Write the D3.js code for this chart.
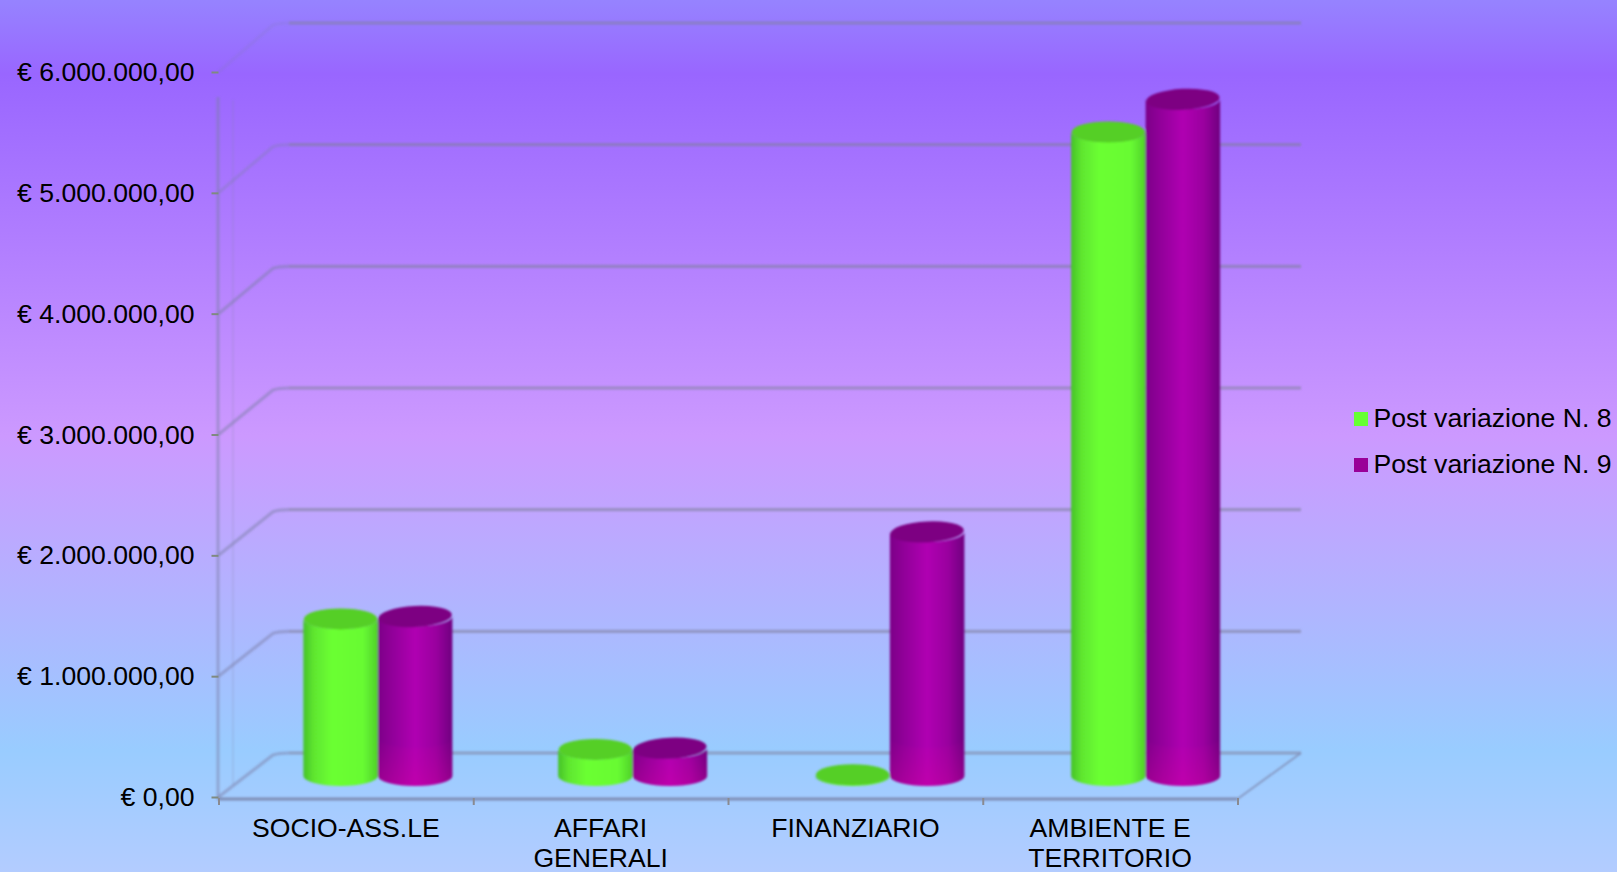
<!DOCTYPE html>
<html><head><meta charset="utf-8">
<script src="https://cdn.jsdelivr.net/npm/d3@7/dist/d3.min.js"></script>
<style>html,body{margin:0;padding:0;overflow:hidden;background:#b0ccff}svg{display:block}text{font-family:"Liberation Sans",Arial,sans-serif;fill:#000}</style>
</head><body><svg id="c" width="1617" height="872"></svg>
<script>
const categories = ["SOCIO-ASS.LE", "AFFARI GENERALI", "FINANZIARIO", "AMBIENTE E TERRITORIO"];
const categoryLines = [["SOCIO-ASS.LE"], ["AFFARI", "GENERALI"], ["FINANZIARIO"], ["AMBIENTE E", "TERRITORIO"]];
const seriesNames = ["Post variazione N. 8", "Post variazione N. 9"];
const series8 = [1300000, 220000, 10000, 5330000];
const series9 = [1320000, 230000, 2020000, 5600000];
const yTicks = [0, 1000000, 2000000, 3000000, 4000000, 5000000, 6000000];

const W = 1617, H = 872, FS = 26.6;
const svg = d3.select("#c");
const defs = svg.append("defs");

// page background
const bg = defs.append("linearGradient").attr("id", "bg").attr("x1", 0).attr("x2", 0).attr("y1", 0).attr("y2", 1);
[[0, "#9683ff"], [.085, "#9966ff"], [.5, "#cc99ff"], [.86, "#99ccff"], [1, "#b3ccff"]]
  .forEach(([o, c]) => bg.append("stop").attr("offset", o).attr("stop-color", c));
svg.append("rect").attr("width", W).attr("height", H).attr("fill", "url(#bg)");

const soft = defs.append("filter").attr("id", "soft").attr("filterUnits", "userSpaceOnUse")
  .attr("x", 0).attr("y", 0).attr("width", W).attr("height", H);
soft.append("feGaussianBlur").attr("stdDeviation", 1);
const soft2 = defs.append("filter").attr("id", "soft2").attr("filterUnits", "userSpaceOnUse")
  .attr("x", 0).attr("y", 0).attr("width", W).attr("height", H);
soft2.append("feGaussianBlur").attr("stdDeviation", .8);

function hGrad(id, stops) {
  const g = defs.append("linearGradient").attr("id", id);
  stops.forEach(([o, c]) => g.append("stop").attr("offset", o).attr("stop-color", c));
}
hGrad("g0", [[0, "#46c22a"], [.14, "#5fe62f"], [.38, "#6bff33"], [.8, "#68fb33"], [1, "#4fd02a"]]);
hGrad("g1", [[0, "#7c0088"], [.2, "#92009a"], [.5, "#b000b2"], [.78, "#9a009f"], [1, "#700080"]]);
const glow = defs.append("linearGradient").attr("id", "glow").attr("x1", 0).attr("x2", 0).attr("y1", 0).attr("y2", 1);
glow.append("stop").attr("offset", 0).attr("stop-color", "#e000a0").attr("stop-opacity", 0);
glow.append("stop").attr("offset", 1).attr("stop-color", "#e000a0").attr("stop-opacity", .32);

// scales
const yFront = d3.scaleLinear().domain([0, 6000000]).range([797, 72]);
const yBack = d3.scaleLinear().domain([0, 6000000]).range([753, 23]);
const yBar = d3.scaleLinear().domain([0, 6000000]).range([776, 51]);
const xIndex = d3.scaleLinear().domain([0, categories.length]).range([218.5, 1237.5]);
const xCat = d3.scaleBand().domain(categories).range([218.5, 1237.5]);
const xSer = d3.scaleBand().domain(seriesNames).range([-74.5, 74.5]);
const depthOf = d3.scaleOrdinal().domain(categories).range([32, 32, 34.5, 35.5]);
const wallOpacity = d3.scaleLinear().domain([4000000, 6000000]).range([.5, .16]).clamp(true);
const wallX = 289, wallEnd = 1301;
const fmt = d3.formatLocale({decimal: ",", thousands: ".", grouping: [3], currency: ["€ ", ""]}).format("$,.2f");

// gridlines: side wall diagonals then back wall
const grid = svg.append("g").attr("filter", "url(#soft)").attr("fill", "none");
grid.selectAll("path.side").data(yTicks).join("path").attr("class", "side")
  .attr("d", d => `M${xIndex(0)},${yFront(d)} L${wallX - 16},${yBack(d) + 2} Q${wallX - 10},${yBack(d)} ${wallX},${yBack(d)}`)
  .attr("stroke", "#7d7fa8").attr("stroke-opacity", d => wallOpacity(d)).attr("stroke-width", 3.2);
grid.selectAll("line.back").data(yTicks).join("line").attr("class", "back")
  .attr("x1", wallX).attr("x2", wallEnd).attr("y1", d => yBack(d)).attr("y2", d => yBack(d))
  .attr("stroke", "#80809f").attr("stroke-opacity", .6).attr("stroke-width", 3.2);
grid.append("line").attr("x1", 218).attr("x2", 218).attr("y1", yFront(6000000) + 25).attr("y2", 800)
  .attr("stroke", "#7d7fa8").attr("stroke-opacity", .5).attr("stroke-width", 3);
grid.append("line").attr("x1", 233).attr("x2", 233).attr("y1", 100).attr("y2", 785)
  .attr("stroke", "#7d7fa8").attr("stroke-opacity", .18).attr("stroke-width", 2);
grid.append("line").attr("x1", xIndex(0)).attr("x2", xIndex(4)).attr("y1", 799).attr("y2", 799)
  .attr("stroke", "#7f8db5").attr("stroke-width", 3.2);
grid.append("line").attr("x1", xIndex(4)).attr("x2", wallEnd).attr("y1", 799).attr("y2", yBack(0))
  .attr("stroke", "#7f8db5").attr("stroke-opacity", .8).attr("stroke-width", 2);

// axes
const yAxis = d3.axisLeft(yFront).tickValues(yTicks).tickFormat(fmt).tickSize(7).tickPadding(17);
const gy = svg.append("g").attr("transform", "translate(218.5,0)").call(yAxis);
gy.select(".domain").remove();
gy.selectAll("line").attr("stroke", "#7f8a80").attr("stroke-width", 2);
gy.selectAll("text").attr("font-size", FS).style("font-family", '"Liberation Sans",Arial,sans-serif').attr("fill", "#000");

const xAxis = d3.axisBottom(xIndex).tickValues(d3.range(categories.length + 1)).tickFormat("").tickSize(7);
const gx = svg.append("g").attr("transform", "translate(0,798)").call(xAxis);
gx.select(".domain").remove();
gx.selectAll("line").attr("stroke", "#8a8a90").attr("stroke-width", 2);

// category labels
const labels = svg.append("g").selectAll("text").data(categories).join("text")
  .attr("text-anchor", "middle").attr("font-size", FS)
  .attr("x", d => xCat(d) + xCat.bandwidth() / 2).attr("y", 837);
labels.selectAll("tspan").data((d, i) => categoryLines[i]).join("tspan")
  .attr("x", function () { return d3.select(this.parentNode).attr("x"); })
  .attr("dy", (d, i) => i ? 30 : 0).text(d => d);

// cylinders
const ry = 10;
const rows = categories.flatMap((c, i) => [
  {c, s: 0, v: series8[i]}, {c, s: 1, v: series9[i]}
]);
const tops = ["#55cf25", "#7d0082"];
const barW = xSer.bandwidth();
const bars = svg.append("g").attr("filter", "url(#soft2)").selectAll("g").data(rows).join("g")
  .attr("transform", d => `translate(${xCat(d.c) + xCat.bandwidth() / 2 + depthOf(d.c) + xSer(seriesNames[d.s])},0)`);
const rx = barW / 2;
const body = d => {
  const t = yBar(d.v), b = yBar(0);
  return `M0,${t} L0,${b} A${rx},${ry} 0 0 0 ${barW},${b} L${barW},${t} A${rx},${ry} 0 0 1 0,${t}Z`;
};
bars.append("path").attr("d", body).attr("fill", d => `url(#g${d.s})`);
bars.filter(d => d.s === 1).append("path")
  .attr("d", d => {
    const b = yBar(0), t = Math.max(yBar(d.v), b - 38);
    return `M0,${t} L0,${b} A${rx},${ry} 0 0 0 ${barW},${b} L${barW},${t} A${rx},${ry} 0 0 1 0,${t}Z`;
  }).attr("fill", "url(#glow)");
bars.append("ellipse").attr("cx", rx).attr("cy", d => yBar(d.v)).attr("rx", rx - .5).attr("ry", ry + .5)
  .attr("transform", d => d.s ? `rotate(-3 ${rx} ${yBar(d.v)})` : null)
  .attr("fill", d => tops[d.s]);

// legend
const swatches = ["#66ff33", "#990099"];
const legendY = d3.scalePoint().domain(seriesNames).range([419, 465]);
const leg = svg.append("g").selectAll("g").data(seriesNames).join("g")
  .attr("transform", d => `translate(1354,${legendY(d)})`);
leg.append("rect").attr("y", -7).attr("width", 14).attr("height", 14).attr("fill", (d, i) => swatches[i]);
leg.append("text").attr("x", 19.5).attr("y", 7.5).attr("font-size", FS).text(d => d);
</script></body></html>
